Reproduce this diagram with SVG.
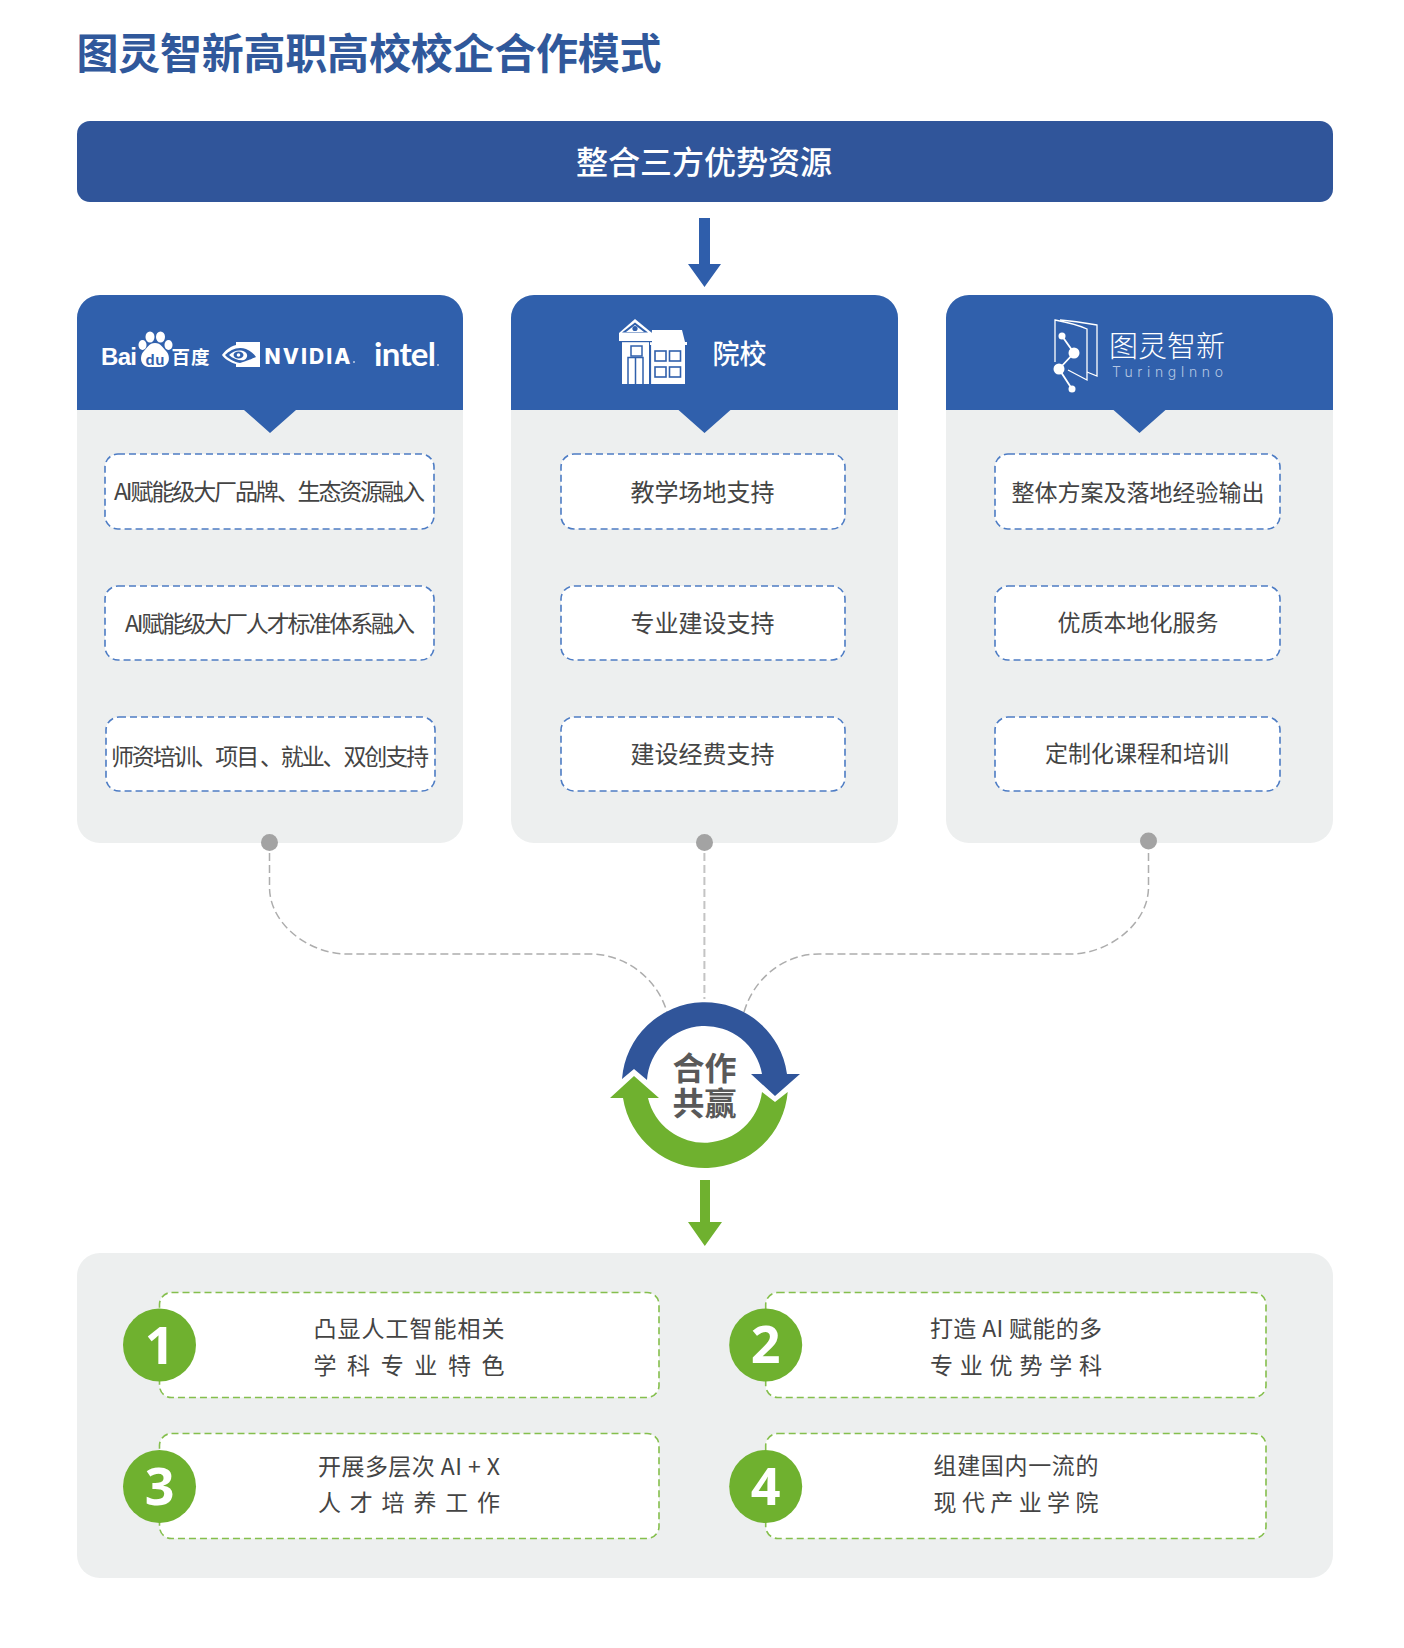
<svg xmlns="http://www.w3.org/2000/svg" width="1404" height="1648" viewBox="0 0 1404 1648">
<style>
text{font-family:"Noto Sans CJK SC","Noto Sans",sans-serif}
.panel{fill:#edefef}
.head{fill:#3060ac}
.bluebox{fill:#fff;stroke:#4d7cc4;stroke-width:1.6;stroke-dasharray:7 4}
.greenbox{fill:#fff;stroke:#85bf4d;stroke-width:1.6;stroke-dasharray:7 4}
.t{font-size:23px;fill:#444}
.t2{font-size:24px;fill:#444;text-anchor:middle}
.w{fill:#fff}
.num{font-family:"Open Sans","Noto Sans",sans-serif;font-size:52px;font-weight:700;fill:#fff;text-anchor:middle}
.dot{fill:#a3a3a3}
.con{fill:none;stroke:#adadad;stroke-width:1.5;stroke-dasharray:8 4}
.hole{fill:#3060ac}
.lat{font-family:"Liberation Sans",sans-serif}
</style>
<rect width="1404" height="1648" fill="#fff"/>
<g id="title"><text x="76.500" y="69" font-size="42" font-weight="700" fill="#30589b" textLength="585">图灵智新高职高校校企合作模式</text></g>
<g id="top-bar"><rect x="77" y="121" width="1256" height="81" rx="13" fill="#30559a"/><text x="704" y="173.500" font-size="32" font-weight="500" fill="#fff" text-anchor="middle">整合三方优势资源</text></g>
<g id="arrow-top"><path d="M699,218H710V264H721L704.500,287 688,264H699Z" fill="#2f5eab"/></g>

<g id="card-partners">
<rect class="panel" x="77" y="295" width="386" height="548" rx="23"/>
<path class="head" d="M77,410V318a23,23 0 0 1 23,-23H440a23,23 0 0 1 23,23V410H296L270,433 244,410Z"/>
<text class="lat" x="101" y="365" font-size="24" font-weight="700" fill="#fff" textLength="36">Bai</text>
<g class="w"><ellipse cx="150" cy="337" rx="4.500" ry="5.500"/><ellipse cx="160.500" cy="337" rx="4.500" ry="5.500"/><ellipse cx="142.500" cy="345" rx="4" ry="5"/><ellipse cx="168.500" cy="345" rx="4" ry="5"/><path d="M155,343c6,0 8,5 11,8 5,5 4,16 -6,16h-10c-10,0 -11,-11 -6,-16 3,-3 5,-8 11,-8Z"/></g>
<text class="lat" x="145.500" y="365" font-size="15" font-weight="700" fill="#3060ac" textLength="19">du</text>
<text x="171.500" y="364" font-size="18.500" font-weight="700" fill="#fff" textLength="38">百度</text>
<path class="w" d="M236,342H260V367H236V364C229,362 224,358 222,355 225,351 229,347 236,345Z"/>
<path d="M225,355C230,350 238,346 246,349 251,351 254,354 256,357 251,359 249,360 246,361L240,363C233,362 228,358 225,355Z" fill="#3060ac"/>
<path d="M229,355C233,351 240,349 245,352 248,354 248,358 244,360 240,361 233,359 229,355Z" fill="#fff"/>
<ellipse cx="238.500" cy="355" rx="5" ry="3.500" fill="#3060ac"/>
<circle cx="238.500" cy="355" r="1.800" fill="#fff"/>
<text x="264.500" y="363.500" font-size="21" font-weight="800" fill="#fff" textLength="86" style="font-family:Inter,sans-serif">NVIDIA</text>
<circle cx="354" cy="362" r="1" class="w" opacity=".7"/>
<text x="374" y="366" font-size="33" font-weight="700" fill="#fff" textLength="62" style="font-family:Lato,sans-serif">intel</text>
<circle cx="438" cy="365" r="1" class="w" opacity=".7"/>
</g>
<g id="card1-item1"><rect class="bluebox" x="105" y="454" width="329" height="75" rx="13"/><text class="t" x="114" y="500" textLength="311">AI赋能级大厂品牌、生态资源融入</text></g>
<g id="card1-item2"><rect class="bluebox" x="105" y="586" width="329" height="74" rx="13"/><text class="t" x="125" y="632" textLength="290">AI赋能级大厂人才标准体系融入</text></g>
<g id="card1-item3"><rect class="bluebox" x="106" y="717" width="329" height="74" rx="13"/><text class="t" x="111" y="765" textLength="318">师资培训、项目 、就业、双创支持</text></g>

<g id="card-school">
<rect class="panel" x="511" y="295" width="387" height="548" rx="23"/>
<path class="head" d="M511,410V318a23,23 0 0 1 23,-23H875a23,23 0 0 1 23,23V410H730.500L704.500,433 678.500,410Z"/>
<g class="w">
<path d="M635,319L652,333V341H619V333Z"/>
<rect x="622" y="341" width="27" height="43"/>
<path d="M652,330H682L685,342H651Z"/>
<rect x="650" y="342" width="37" height="3"/>
<rect x="651" y="345" width="34" height="39"/>
</g>
<path class="hole" d="M635,322.500L648,332.500H622Z"/>
<path class="w" d="M635,325L644,332H626Z"/>
<circle cx="635" cy="328.500" r="2.600" class="hole"/>
<rect x="619" y="341" width="33" height="1.200" class="hole"/>
<rect x="631" y="346" width="11" height="10" fill="none" stroke="#3060ac" stroke-width="1.500"/>
<path d="M628,384V357.500H643V384M635.500,358V384" fill="none" stroke="#3060ac" stroke-width="1.500"/>
<path d="M650.500,345V384" stroke="#3060ac" stroke-width="1.200"/>
<g fill="none" stroke="#3060ac" stroke-width="1.600"><rect x="655" y="351" width="11" height="10"/><rect x="669.500" y="351" width="11" height="10"/><rect x="655" y="367" width="11" height="10"/><rect x="669.500" y="367" width="11" height="10"/></g>
<text x="712.500" y="364" font-size="27" font-weight="500" fill="#fff">院校</text>
</g>
<g id="card2-item1"><rect class="bluebox" x="561" y="454" width="284" height="75" rx="13"/><text class="t2" x="702.500" y="501" >教学场地支持</text></g>
<g id="card2-item2"><rect class="bluebox" x="561" y="586" width="284" height="74" rx="13"/><text class="t2" x="702.500" y="632">专业建设支持</text></g>
<g id="card2-item3"><rect class="bluebox" x="561" y="717" width="284" height="74" rx="13"/><text class="t2" x="702.500" y="763">建设经费支持</text></g>

<g id="card-turing">
<rect class="panel" x="946" y="295" width="387" height="548" rx="23"/>
<path class="head" d="M946,410V318a23,23 0 0 1 23,-23H1310a23,23 0 0 1 23,23V410H1165.500L1139.500,433 1113.500,410Z"/>
<g fill="none" stroke="#fff" stroke-width="1.300">
<path d="M1055,362V320C1066,322 1078,325 1087,329V380L1068,370"/>
<path d="M1060,320C1072,321 1085,323 1097,325V376L1087,372"/>
<path d="M1062,336L1074,353 1059,369 1072,389" stroke-width="1.800"/>
</g>
<g class="w"><circle cx="1062" cy="336" r="3.500"/><circle cx="1074" cy="353" r="5.500"/><circle cx="1059" cy="369" r="5.500"/><circle cx="1072" cy="389" r="3.500"/></g>
<text x="1109" y="356.500" font-size="29" font-weight="300" fill="#fff" textLength="116">图灵智新</text>
<text x="1112" y="377" font-size="14" font-weight="300" fill="#b4c6e2" textLength="111" style="font-family:Inter,sans-serif">TuringInno</text>
</g>
<g id="card3-item1"><rect class="bluebox" x="995" y="454" width="285" height="75" rx="13"/><text class="t" x="1138" y="501" text-anchor="middle">整体方案及落地经验输出</text></g>
<g id="card3-item2"><rect class="bluebox" x="995" y="586" width="285" height="74" rx="13"/><text class="t" x="1138" y="631" text-anchor="middle">优质本地化服务</text></g>
<g id="card3-item3"><rect class="bluebox" x="995" y="717" width="285" height="74" rx="13"/><text class="t" x="1137" y="762" text-anchor="middle">定制化课程和培训</text></g>

<g id="connectors">
<path class="con" d="M269.500,853V887C269.500,925 310,954 347,954H590C625,954 657,978 667,1012"/>
<path d="M704.400,853V999" fill="none" stroke="#c4c4c4" stroke-width="2" stroke-dasharray="8 4"/>
<path class="con" d="M1148.500,853V887C1148.500,925 1107,954 1071,954H819C784,954 754,978 744,1012"/>
<circle class="dot" cx="269.500" cy="842.500" r="8.500"/>
<circle class="dot" cx="704.500" cy="842.500" r="8.500"/>
<circle class="dot" cx="1148.500" cy="841" r="8.500"/>
</g>

<g id="cycle">
<path d="M622,1079A83,83 0 0 1 787,1074H800L775,1096 751,1074H762A58,58 0 0 0 647,1080L634,1069Z" fill="#30559a"/>
<path d="M787.700,1092A83,83 0 0 1 623,1098H610L634,1076 659,1098H648A58,58 0 0 0 762,1092L775,1102Z" fill="#6fb12f"/>
<text font-size="32" font-weight="700" fill="#595959" text-anchor="middle"><tspan x="704.500" y="1080">合作</tspan><tspan x="704.500" y="1115">共赢</tspan></text>
</g>
<g id="arrow-bottom"><path d="M700,1180H710V1222H722L704.800,1246 688,1222H700Z" fill="#6fb12f"/></g>

<g id="bottom-panel"><rect class="panel" x="77" y="1253" width="1256" height="325" rx="23"/></g>
<g id="goal-1"><rect class="greenbox" x="159.500" y="1292.500" width="499.500" height="105" rx="12"/><circle cx="159.500" cy="1345" r="36.500" fill="#6fb12f"/><text class="num" x="159.500" y="1364">1</text><text class="t" x="313.500" y="1336.500" textLength="191">凸显人工智能相关</text><text class="t" x="313.500" y="1373.500" textLength="191">学 科 专 业 特 色</text></g>
<g id="goal-2"><rect class="greenbox" x="765.700" y="1292.500" width="500.300" height="105" rx="12"/><circle cx="765.700" cy="1345" r="36.500" fill="#6fb12f"/><text class="num" x="765.700" y="1363">2</text><text class="t" x="930" y="1336.500" textLength="172">打造 AI 赋能的多</text><text class="t" x="930" y="1373.500" textLength="172">专 业 优 势 学 科</text></g>
<g id="goal-3"><rect class="greenbox" x="159.500" y="1433.500" width="499.500" height="105" rx="12"/><circle cx="159.500" cy="1486.500" r="36.500" fill="#6fb12f"/><text class="num" x="159.500" y="1505">3</text><text class="t" x="318" y="1474.500" textLength="182">开展多层次 AI + X</text><text class="t" x="318" y="1511" textLength="182">人 才 培 养 工 作</text></g>
<g id="goal-4"><rect class="greenbox" x="765.700" y="1433.500" width="500.300" height="105" rx="12"/><circle cx="765.700" cy="1486.500" r="36.500" fill="#6fb12f"/><text class="num" x="765.700" y="1505">4</text><text class="t" x="933.500" y="1473.500" textLength="165">组建国内一流的</text><text class="t" x="933.500" y="1511" textLength="165">现 代 产 业 学 院</text></g>
</svg>
